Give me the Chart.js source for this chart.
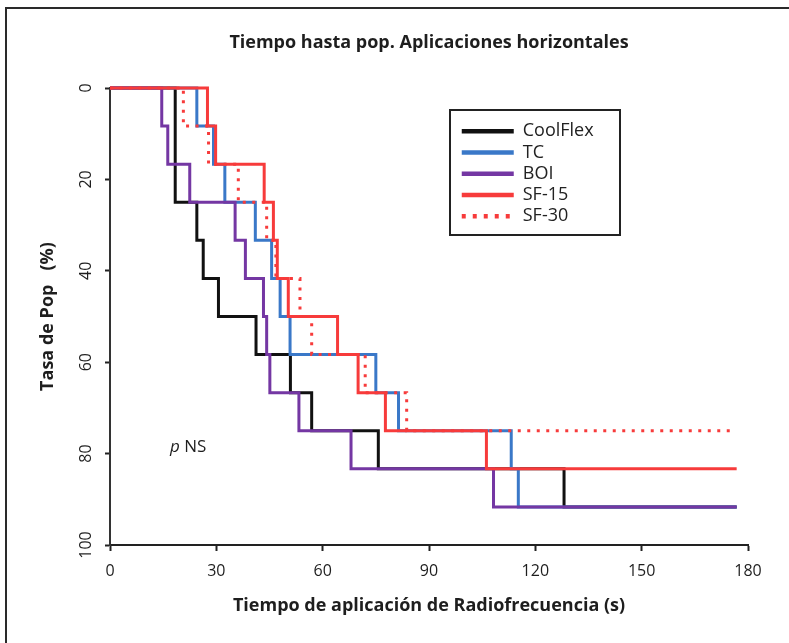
<!DOCTYPE html>
<html>
<head>
<meta charset="utf-8">
<script src="https://cdn.jsdelivr.net/npm/chart.js@4"></script>
<style>
html,body{margin:0;padding:0;background:#ffffff;}
#wrap{position:relative;width:789px;height:643px;overflow:hidden;background:#fff;}
#frame{position:absolute;left:5px;top:7px;width:900px;height:900px;border-left:2px solid #2a2a2a;border-top:2px solid #2a2a2a;}
#c{position:absolute;left:0;top:0;}
</style>
</head>
<body>
<div id="wrap"><div id="frame"></div><canvas id="c" width="789" height="643"></canvas></div>
<script>
// ---- data ----
const seriesNames = ['CoolFlex', 'TC', 'BOI', 'SF-15', 'SF-30'];

const coolflexTime = [0, 18.4, 24.5, 26.3, 30.6, 41.2, 50.9, 56.9, 75.7, 128.1, 176.8];
const coolflexRate = [0, 25, 33.3, 41.7, 50, 58.3, 66.7, 75, 83.3, 91.7, 91.7];

const tcTime = [0, 24.5, 29.2, 32.4, 41.0, 45.6, 48.0, 50.8, 75.0, 81.4, 113.2, 115.2, 176.8];
const tcRate = [0, 8.3, 16.7, 25, 33.3, 41.7, 50, 58.3, 66.7, 75, 83.3, 91.7, 91.7];

const boiTime = [0, 14.6, 16.3, 22.5, 35.3, 38.2, 43.3, 44.2, 45.1, 53.3, 68.0, 108.2, 176.8];
const boiRate = [0, 8.3, 16.7, 25, 33.3, 41.7, 50, 58.3, 66.7, 75, 83.3, 91.7, 91.7];

const sf15Time = [0, 27.5, 29.8, 43.5, 46.1, 47.2, 50.3, 64.2, 70.0, 77.7, 106.2, 176.8];
const sf15Rate = [0, 8.3, 16.7, 25, 33.3, 41.7, 50, 58.3, 66.7, 75, 83.3, 83.3];

const sf30Time = [0, 20.7, 27.8, 36.2, 44.2, 46.8, 53.6, 56.9, 72.0, 83.7, 176.5];
const sf30Rate = [0, 8.3, 16.7, 25, 33.3, 41.7, 50, 58.3, 66.7, 75, 75];

const xTicks = [0, 30, 60, 90, 120, 150, 180];
const yTicks = [0, 20, 40, 60, 80, 100];

const chartTitle = 'Tiempo hasta pop. Aplicaciones horizontales';
const xTitle = 'Tiempo de aplicación de Radiofrecuencia (s)';
const yTitle = 'Tasa de Pop   (%)';

// ---- styles ----
const FONT = "'Open Sans', 'Noto Sans', sans-serif";
const INK = '#1e1e1e';
const COLORS = ['#111111', '#3a78c8', '#7437a3', '#f73b3b', '#f73b3b'];
const DASHES = [[], [], [], [], [3, 6.5]];
const LEGEND_DASHES = [[], [], [], [], [4, 7]];
const ORDERS = [5, 4, 3, 2, 1];

const times = [coolflexTime, tcTime, boiTime, sf15Time, sf30Time];
const rates = [coolflexRate, tcRate, boiRate, sf15Rate, sf30Rate];

const datasets = seriesNames.map((name, i) => ({
  label: name,
  data: times[i].map((t, k) => ({x: t, y: rates[i][k]})),
  borderColor: COLORS[i],
  backgroundColor: COLORS[i],
  borderWidth: 3,
  borderDash: DASHES[i],
  stepped: true,
  pointRadius: 0,
  pointHoverRadius: 0,
  fill: false,
  tension: 0,
  order: ORDERS[i],
  clip: false
}));

const LEGEND_LEFT = 458.5;
const LEGEND_TOP = 119;

const legendPlacer = {
  id: 'legendPlacer',
  afterLayout(chart) {
    const lg = chart.legend;
    if (!lg) return;
    const w = lg.width, h = lg.height;
    lg.left = LEGEND_LEFT; lg.top = LEGEND_TOP;
    lg.right = LEGEND_LEFT + w; lg.bottom = LEGEND_TOP + h;
  },
  afterDraw(chart) {
    const ctx = chart.ctx;
    const lg = chart.legend;
    ctx.save();
    ctx.strokeStyle = '#222';
    ctx.lineWidth = 2;
    ctx.strokeRect(lg.left - 8.5, lg.top - 9, 170, 125);
    // p NS annotation
    const xs = chart.scales.x, ys = chart.scales.y;
    const px = xs.getPixelForValue(16.9), py = ys.getPixelForValue(78.6);
    ctx.fillStyle = INK;
    ctx.textBaseline = 'middle';
    ctx.textAlign = 'left';
    ctx.font = "italic 17px " + FONT;
    ctx.fillText('p', px, py);
    const pw = ctx.measureText('p ').width;
    ctx.font = "17px " + FONT;
    ctx.fillText('NS', px + pw, py);
    ctx.restore();
  }
};

new Chart(document.getElementById('c'), {
  type: 'line',
  data: {datasets},
  plugins: [legendPlacer],
  options: {
    responsive: false,
    animation: false,
    events: [],
    layout: {padding: {left: 8, right: 41, top: 0, bottom: 0}},
    plugins: {
      title: {
        display: true,
        fullSize: false,
        text: chartTitle,
        color: INK,
        font: {family: FONT, size: 18, weight: 'bold', lineHeight: 1.2},
        padding: {top: 32.2, bottom: 34.2}
      },
      legend: {
        display: true,
        position: 'chartArea',
        align: 'start',
        labels: {
          usePointStyle: true,
          pointStyle: 'line',
          pointStyleWidth: 52,
          color: '#222',
          font: {family: FONT, size: 18},
          padding: 3.25,
          generateLabels(chart) {
            const items = Chart.defaults.plugins.legend.labels.generateLabels(chart);
            items.forEach(it => {
              it.lineWidth = 4.5;
              it.pointStyle = 'line';
              it.lineDash = LEGEND_DASHES[it.datasetIndex];
              it.fontColor = '#222';
            });
            return items.sort((a, b) => a.datasetIndex - b.datasetIndex);
          }
        }
      },
      tooltip: {enabled: false}
    },
    scales: {
      x: {
        type: 'linear',
        min: 0, max: 180,
        afterBuildTicks(s) { s.ticks = xTicks.map(v => ({value: v})); },
        afterFit(s) { s.height = 98; },
        grid: {drawOnChartArea: false, drawTicks: true, tickLength: 6, tickWidth: 2, tickColor: '#222'},
        border: {display: true, color: '#222', width: 2},
        ticks: {color: INK, font: {family: FONT, size: 16}, padding: 11, maxRotation: 0, minRotation: 0, autoSkip: false},
        title: {display: true, text: xTitle, color: INK, font: {family: FONT, size: 18, weight: 'bold', lineHeight: 1.2}, padding: {top: 0, bottom: 26.2}}
      },
      y: {
        type: 'linear',
        min: 0, max: 100,
        reverse: true,
        afterBuildTicks(s) { s.ticks = yTicks.map(v => ({value: v})); },
        afterFit(s) { s.width = 102; },
        grid: {drawOnChartArea: false, drawTicks: true, tickLength: 5, tickWidth: 2, tickColor: '#222'},
        border: {display: true, color: '#333', width: 2},
        ticks: {color: INK, font: {family: FONT, size: 16}, padding: 5, minRotation: 90, maxRotation: 90, crossAlign: 'center', autoSkip: false},
        title: {display: true, text: yTitle, color: INK, font: {family: FONT, size: 18, weight: 'bold', lineHeight: 1.2}, padding: {top: 29.2, bottom: 0}}
      }
    }
  }
});
</script>
</body>
</html>
